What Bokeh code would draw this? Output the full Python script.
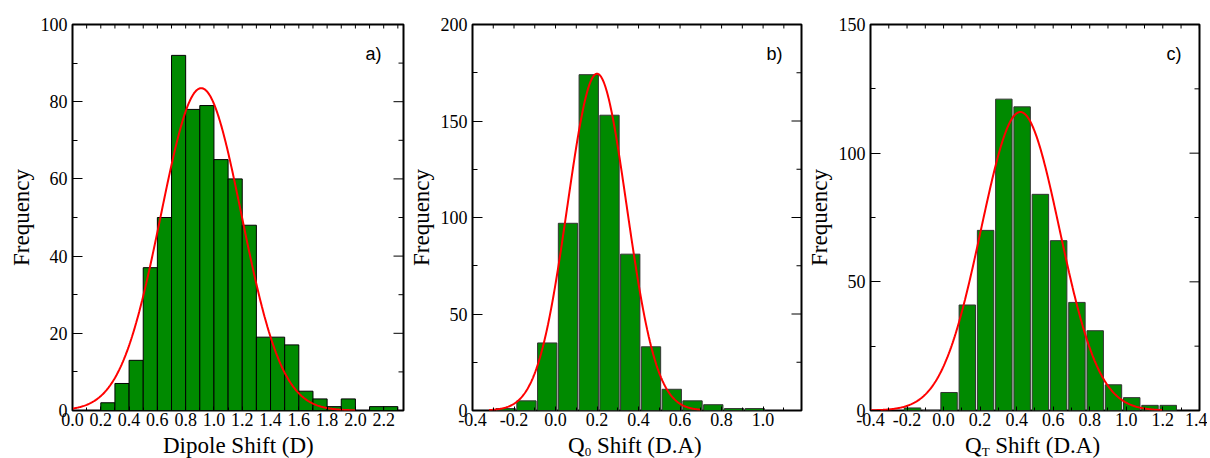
import numpy as np
from bokeh.plotting import figure
from bokeh.models import Range1d, SingleIntervalTicker, NumeralTickFormatter, Label, Div
from bokeh.layouts import row, column
from bokeh.embed import file_html
from bokeh.resources import INLINE

# ---------------- data ----------------
# a) Dipole shift histogram (bin width 0.1 D)
a_centers = [0.25, 0.35, 0.45, 0.55, 0.65, 0.75, 0.85, 0.95, 1.05, 1.15, 1.25,
             1.35, 1.45, 1.55, 1.65, 1.75, 1.85, 1.95, 2.05, 2.15, 2.25]
a_counts = [2, 7, 13, 37, 50, 92, 78, 79, 65, 60, 48,
            19, 19, 17, 5, 3, 1, 3, 0, 1, 1]
a_fit = {"amp": 83.5, "mu": 0.91, "sigma": 0.285, "lo": 0.0, "hi": 2.0}
a_xlabel = "Dipole Shift (D)"

# b) Q0 shift histogram
b_centers = [-0.24, -0.14, -0.04, 0.06, 0.16, 0.26, 0.36, 0.46, 0.56, 0.66, 0.76, 0.86, 0.96]
b_counts = [1, 5, 35, 97, 174, 153, 81, 33, 11, 5, 3, 1, 1]
b_fit = {"amp": 174.5, "mu": 0.20, "sigma": 0.143, "lo": -0.32, "hi": 0.70}
b_xlabel = ("Q", "0", " Shift (D.A)")

# c) QT shift histogram
c_centers = [-0.17, -0.07, 0.03, 0.13, 0.23, 0.33, 0.43, 0.53, 0.63, 0.73, 0.83,
             0.93, 1.03, 1.13, 1.23]
c_counts = [1, 0, 7, 41, 70, 121, 118, 84, 66, 42, 31, 10, 5, 2, 2]
c_fit = {"amp": 116.0, "mu": 0.42, "sigma": 0.215, "lo": -0.4, "hi": 1.2}
c_xlabel = ("Q", "T", " Shift (D.A)")

SERIF = "Liberation Serif"
SANS = "Liberation Sans"
BAR_GREEN = "#008A00"


def style_axis(ax, tick_in, minor_in):
    ax.axis_line_color = None
    ax.major_tick_in = tick_in
    ax.major_tick_out = 0
    ax.minor_tick_in = minor_in
    ax.minor_tick_out = 0
    ax.major_tick_line_color = "black"
    ax.minor_tick_line_color = "black"
    ax.major_label_text_font = SERIF
    ax.major_label_text_font_size = "18px"
    ax.major_label_text_color = "black"


def make_panel(width, left_border, right_border, xr, yr, y_interval, centers, counts,
               bar_w, bar_line, fit, tag, tag_x):
    p = figure(width=width, height=434, x_range=Range1d(*xr), y_range=Range1d(*yr),
               output_backend="svg", toolbar_location=None,
               min_border_left=left_border, min_border_right=right_border,
               min_border_top=24, min_border_bottom=24)
    p.grid.visible = False
    p.outline_line_color = "black"
    p.outline_line_width = 2
    p.background_fill_color = "white"
    p.border_fill_color = "white"

    xa = p.xaxis[0]
    xa.ticker = SingleIntervalTicker(interval=0.2, num_minor_ticks=2)
    xa.formatter = NumeralTickFormatter(format="0.0")
    style_axis(xa, 4, 3)
    xa.major_label_standoff = 2

    ya = p.yaxis[0]
    ya.ticker = SingleIntervalTicker(interval=y_interval, num_minor_ticks=2)
    style_axis(ya, 10, 5)
    ya.major_label_standoff = 5
    ya.axis_label = "Frequency"
    ya.axis_label_text_font = SERIF
    ya.axis_label_text_font_size = "23px"
    ya.axis_label_text_font_style = "normal"
    ya.axis_label_text_color = "black"
    ya.axis_label_standoff = 4

    # mirrored inward ticks on the right and top edges (clipped to the frame)
    y_major = np.arange(yr[0], yr[1] + 1e-9, y_interval)
    y_minor = np.arange(yr[0] + y_interval / 2, yr[1], y_interval)
    p.scatter(x=[xr[1]] * len(y_major), y=y_major, marker="dash", size=20,
              line_color="black", line_width=1)
    p.scatter(x=[xr[1]] * len(y_minor), y=y_minor, marker="dash", size=10,
              line_color="black", line_width=1)
    x_ticks = np.round(np.arange(np.ceil(xr[0] * 10) / 10, xr[1] + 1e-9, 0.1), 2)
    p.scatter(x=x_ticks, y=[yr[1]] * len(x_ticks), marker="dash", size=8, angle=np.pi / 2,
              line_color="black", line_width=1)

    p.vbar(x=centers, top=counts, bottom=0, width=bar_w,
           fill_color=BAR_GREEN, line_color=bar_line, line_width=1)

    xs = np.linspace(fit["lo"], fit["hi"], 400)
    ys = fit["amp"] * np.exp(-(xs - fit["mu"]) ** 2 / (2 * fit["sigma"] ** 2))
    p.line(xs, ys, line_color="red", line_width=2)

    p.add_layout(Label(x=tag_x, y=357, x_units="screen", y_units="screen", text=tag,
                       text_font=SANS, text_font_size="18px", text_color="black",
                       text_baseline="alphabetic"))
    return p


def title_div(width, left, html):
    style = ("font-family:'Liberation Serif',serif;font-size:23px;line-height:24px;"
             "color:black;white-space:nowrap;margin:0;padding:0 0 0 %dpx;" % left)
    return Div(text='<div style="%s">%s</div>' % (style, html),
               width=width, height=24, margin=(0, 0, 0, 0))


def sub_html(parts):
    base, sub, rest = parts
    return ('%s<span style="font-size:13px;position:relative;top:3px;line-height:0;">%s</span>%s'
            % (base, sub, rest.replace(" ", "&nbsp;", 1)))


pa = make_panel(405, 72, 2, (0.0, 2.34), (0, 100), 20, a_centers, a_counts, 0.1, "black",
                a_fit, "a)", 293)
pb = make_panel(398, 64, 2, (-0.4, 1.185), (0, 200), 50, b_centers, b_counts, 0.093, "#333333",
                b_fit, "b)", 294)
pc = make_panel(404, 64, 8, (-0.4, 1.401), (0, 150), 50, c_centers, c_counts, 0.09, "#333333",
                c_fit, "c)", 296)

layout = row(
    column(pa, title_div(405, 163, a_xlabel)),
    column(pb, title_div(398, 163, sub_html(b_xlabel))),
    column(pc, title_div(404, 162, sub_html(c_xlabel))),
)
open("out.html", "w").write(file_html(layout, INLINE))
